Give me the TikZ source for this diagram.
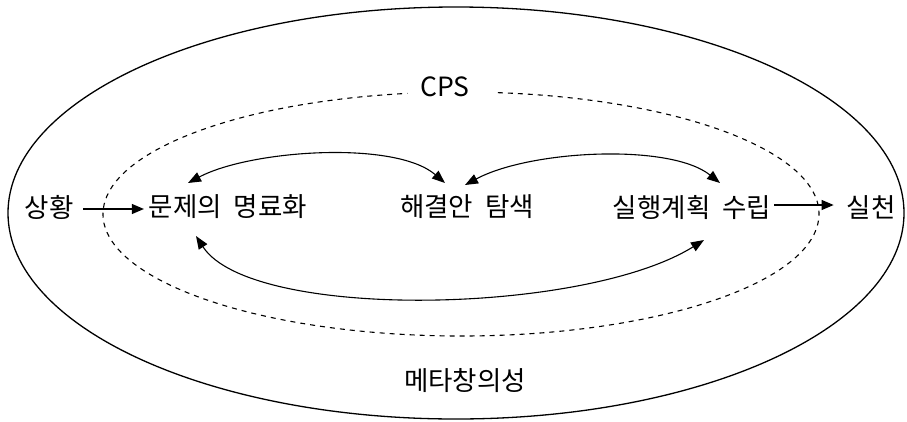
\documentclass[tikz,border=0pt]{standalone}
\usepackage{fontspec}
\setmainfont{Noto Sans CJK KR}
\usetikzlibrary{arrows.meta}
\begin{document}
\begin{tikzpicture}[x=1pt,y=-1pt,
  font=\fontsize{26.5}{30}\selectfont,
  lbl/.style={inner sep=0pt, outer sep=0pt, anchor=center},
  arr/.style={-{Triangle[length=12pt,width=10pt]}, line width=1.1pt},
  darr/.style={{Triangle[length=13pt,width=10pt]}-{Triangle[length=13pt,width=10pt]}, line width=1.1pt},
  ring/.style={line width=1.3pt},
  cps/.style={line width=1.1pt, dash pattern=on 5pt off 5pt}]
\useasboundingbox (0,0) rectangle (907,421);
% outer ellipse (meta-creativity)
\draw[ring] (456,213) ellipse [x radius=448, y radius=206];
% inner dashed ellipse (CPS) with a gap for its label
\draw[cps] (461,214) ++(275.9:358 and 122) arc [start angle=275.9, end angle=621.4, x radius=358, y radius=122];
% labels
\node[lbl] (cpsl) at (445,87) {CPS};
\node[lbl] (meta) at (465,381) {메타창의성};
\node[lbl] (sang) at (49,207) {상황};
\node[lbl] (mun) at (228,207) {문제의\hspace{0.45em}명료화};
\node[lbl] (hae) at (467,207) {해결안\hspace{0.45em}탐색};
\node[lbl] (sil) at (692,207) {실행계획\hspace{0.45em}수립};
\node[lbl] (chn) at (871,207) {실천};
% straight arrows
\draw[arr] ([xshift=10pt,yshift=-2pt]sang.east) -- ([xshift=-5pt,yshift=-2pt]mun.west);
\draw[arr] ([xshift=3pt,yshift=2pt]sil.east) -- ([xshift=-13pt,yshift=2pt]chn.west);
% arc endpoints tied to nodes
\coordinate (munT) at ([shift={(-40,-24)}]mun.center);
\coordinate (munB) at ([shift={(-32,29)}]mun.center);
\coordinate (haeTL) at ([shift={(-22,-24)}]hae.center);
\coordinate (haeTR) at ([shift={(-2,-22)}]hae.center);
\coordinate (silT) at ([shift={(28,-24)}]sil.center);
\coordinate (silB) at ([shift={(12,33)}]sil.center);
% curved double arrows
\draw[darr] (munT) .. controls +(62,-33) and +(-50,-43) .. (haeTL);
\draw[darr] (haeTR) .. controls +(65,-35) and +(-50,-40) .. (silT);
\draw[darr] (munB) .. controls +(55,85) and +(-120,75) .. (silB);
\end{tikzpicture}
\end{document}
